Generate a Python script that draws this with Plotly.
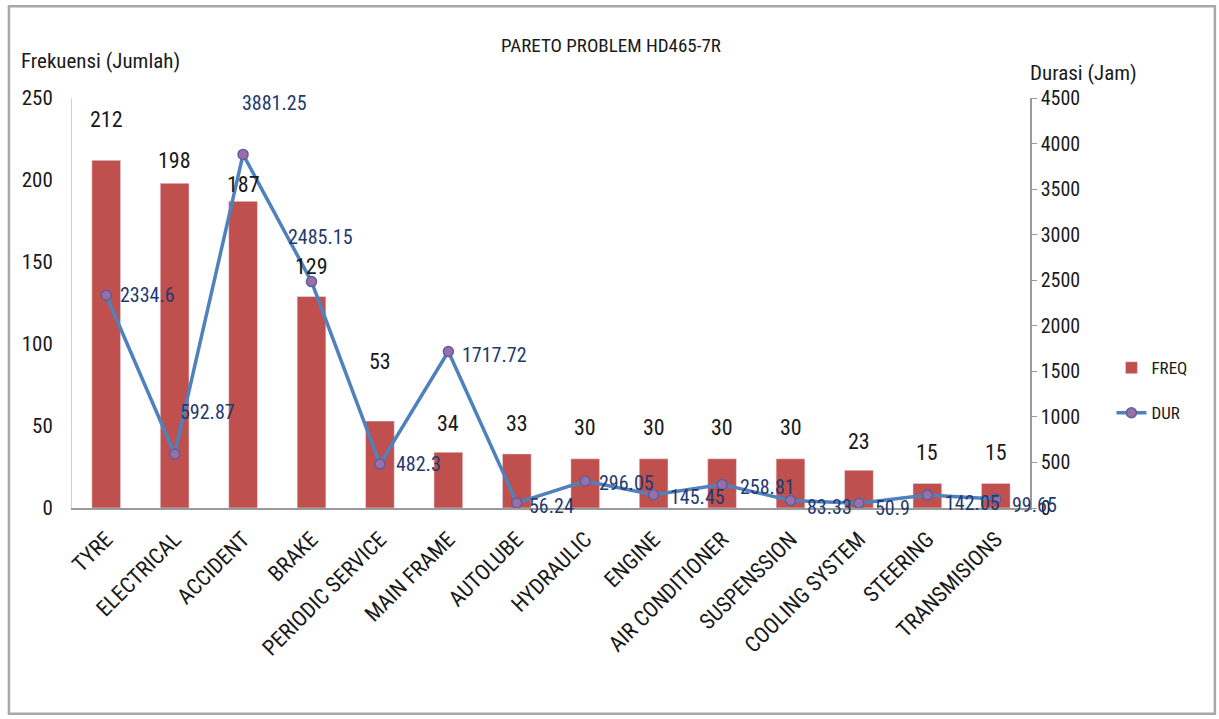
import plotly.graph_objects as go

categories = ["TYRE", "ELECTRICAL", "ACCIDENT", "BRAKE", "PERIODIC SERVICE", "MAIN FRAME",
              "AUTOLUBE", "HYDRAULIC", "ENGINE", "AIR CONDITIONER", "SUSPENSSION",
              "COOLING SYSTEM", "STEERING", "TRANSMISIONS"]
freq = [212, 198, 187, 129, 53, 34, 33, 30, 30, 30, 30, 23, 15, 15]
dur = [2334.6, 592.87, 3881.25, 2485.15, 482.3, 1717.72, 56.24, 296.05, 145.45,
       258.81, 83.33, 50.9, 142.05, 99.65]
dur_labels = ["2334.6", "592.87", "3881.25", "2485.15", "482.3", "1717.72", "56.24",
              "296.05", "145.45", "258.81", "83.33", "50.9", "142.05", "99.65"]
left_ticks = [0, 50, 100, 150, 200, 250]
right_ticks = [0, 500, 1000, 1500, 2000, 2500, 3000, 3500, 4000, 4500]

# label placement (pixel offsets, styling only)
freq_label_yshift = [41, 23, 17, 30, 60, 29, 30, 31, 31, 31, 31, 29, 31, 31]
dur_label_xshift = [12, 3, -3, -26, 14, 12, 10, 12, 14, 16, 14, 14, 16, 14]
dur_label_yshift = [0, 42, 51, 45, 0, -3, -3, -2, -2, -3, -7, -5, -8, -6]

FONT = "Liberation Sans Narrow, Arial Narrow, Roboto Condensed, sans-serif"
RED = "#C0504D"
BLUE = "#4F81BD"
NAVY = "#1F3A70"
TXT = "#1A1A1A"

fig = go.Figure()
fig.add_trace(go.Bar(x=categories, y=freq, name="FREQ", marker_color=RED,
                     width=0.42, yaxis="y", legendgroup="a"))
fig.add_trace(go.Scatter(x=categories, y=dur, name="DUR", yaxis="y2", mode="lines+markers",
                         line=dict(color=BLUE, width=3.5),
                         marker=dict(symbol="circle", size=10, color="#9A6FA8",
                                     line=dict(color="#5A5F9E", width=1.5)),
                         legendgroup="b"))

annotations = []
for c, v, ys in zip(categories, freq, freq_label_yshift):
    annotations.append(dict(x=c, y=v, xref="x", yref="y", text=str(v), showarrow=False,
                            yshift=ys, font=dict(family=FONT, size=22, color=TXT)))
for c, v, t, xs, ys in zip(categories, dur, dur_labels, dur_label_xshift, dur_label_yshift):
    annotations.append(dict(x=c, y=v, xref="x", yref="y2", text=t, showarrow=False,
                            xanchor="left", xshift=xs, yshift=ys,
                            font=dict(family=FONT, size=20, color=NAVY)))

annotations += [
    dict(text="PARETO PROBLEM HD465-7R", x=0.563, y=1.16, xref="paper", yref="paper",
         showarrow=False, font=dict(family=FONT, size=19, color=TXT)),
    dict(text="Frekuensi (Jumlah)", x=-0.055, y=1.125, xref="paper", yref="paper",
         xanchor="left", showarrow=False, font=dict(family=FONT, size=21, color=TXT)),
    dict(text="Durasi (Jam)", x=0.998, y=1.095, xref="paper", yref="paper",
         xanchor="left", showarrow=False, font=dict(family=FONT, size=21, color=TXT)),
]

fig.update_layout(
    width=1219, height=719,
    margin=dict(l=72, r=189, t=98, b=211),
    paper_bgcolor="white", plot_bgcolor="white",
    bargap=0.58,
    xaxis=dict(tickangle=-45, showline=True, linecolor="#9A9A9A", linewidth=1.5,
               ticks="", ticklabelstandoff=8,
               tickfont=dict(family=FONT, size=22, color=TXT),
               range=[-0.5, 13.5]),
    yaxis=dict(range=[0, 250], tickvals=left_ticks, showgrid=False, zeroline=False,
               showline=True, linecolor="#D0D0D0", linewidth=1, ticks="",
               ticklabelstandoff=14,
               tickfont=dict(family=FONT, size=21, color=TXT)),
    yaxis2=dict(range=[0, 4500], tickvals=right_ticks, overlaying="y", side="right",
                showgrid=False, zeroline=False, showline=True, linecolor="#9A9A9A",
                linewidth=1.5, ticks="outside", ticklen=5, tickcolor="#9A9A9A",
                tickfont=dict(family=FONT, size=20, color=TXT)),
    legend=dict(x=1.085, y=0.385, xanchor="left", yanchor="top", traceorder="grouped",
                tracegroupgap=20, font=dict(family=FONT, size=17, color=TXT),
                bgcolor="rgba(0,0,0,0)"),
    annotations=annotations,
    shapes=[dict(type="rect", xref="paper", yref="paper",
                 x0=-0.0658, x1=1.193, y0=-0.502, y1=1.224,
                 line=dict(color="#A8A8A8", width=2.5))],
)

fig.write_html("out.html")
